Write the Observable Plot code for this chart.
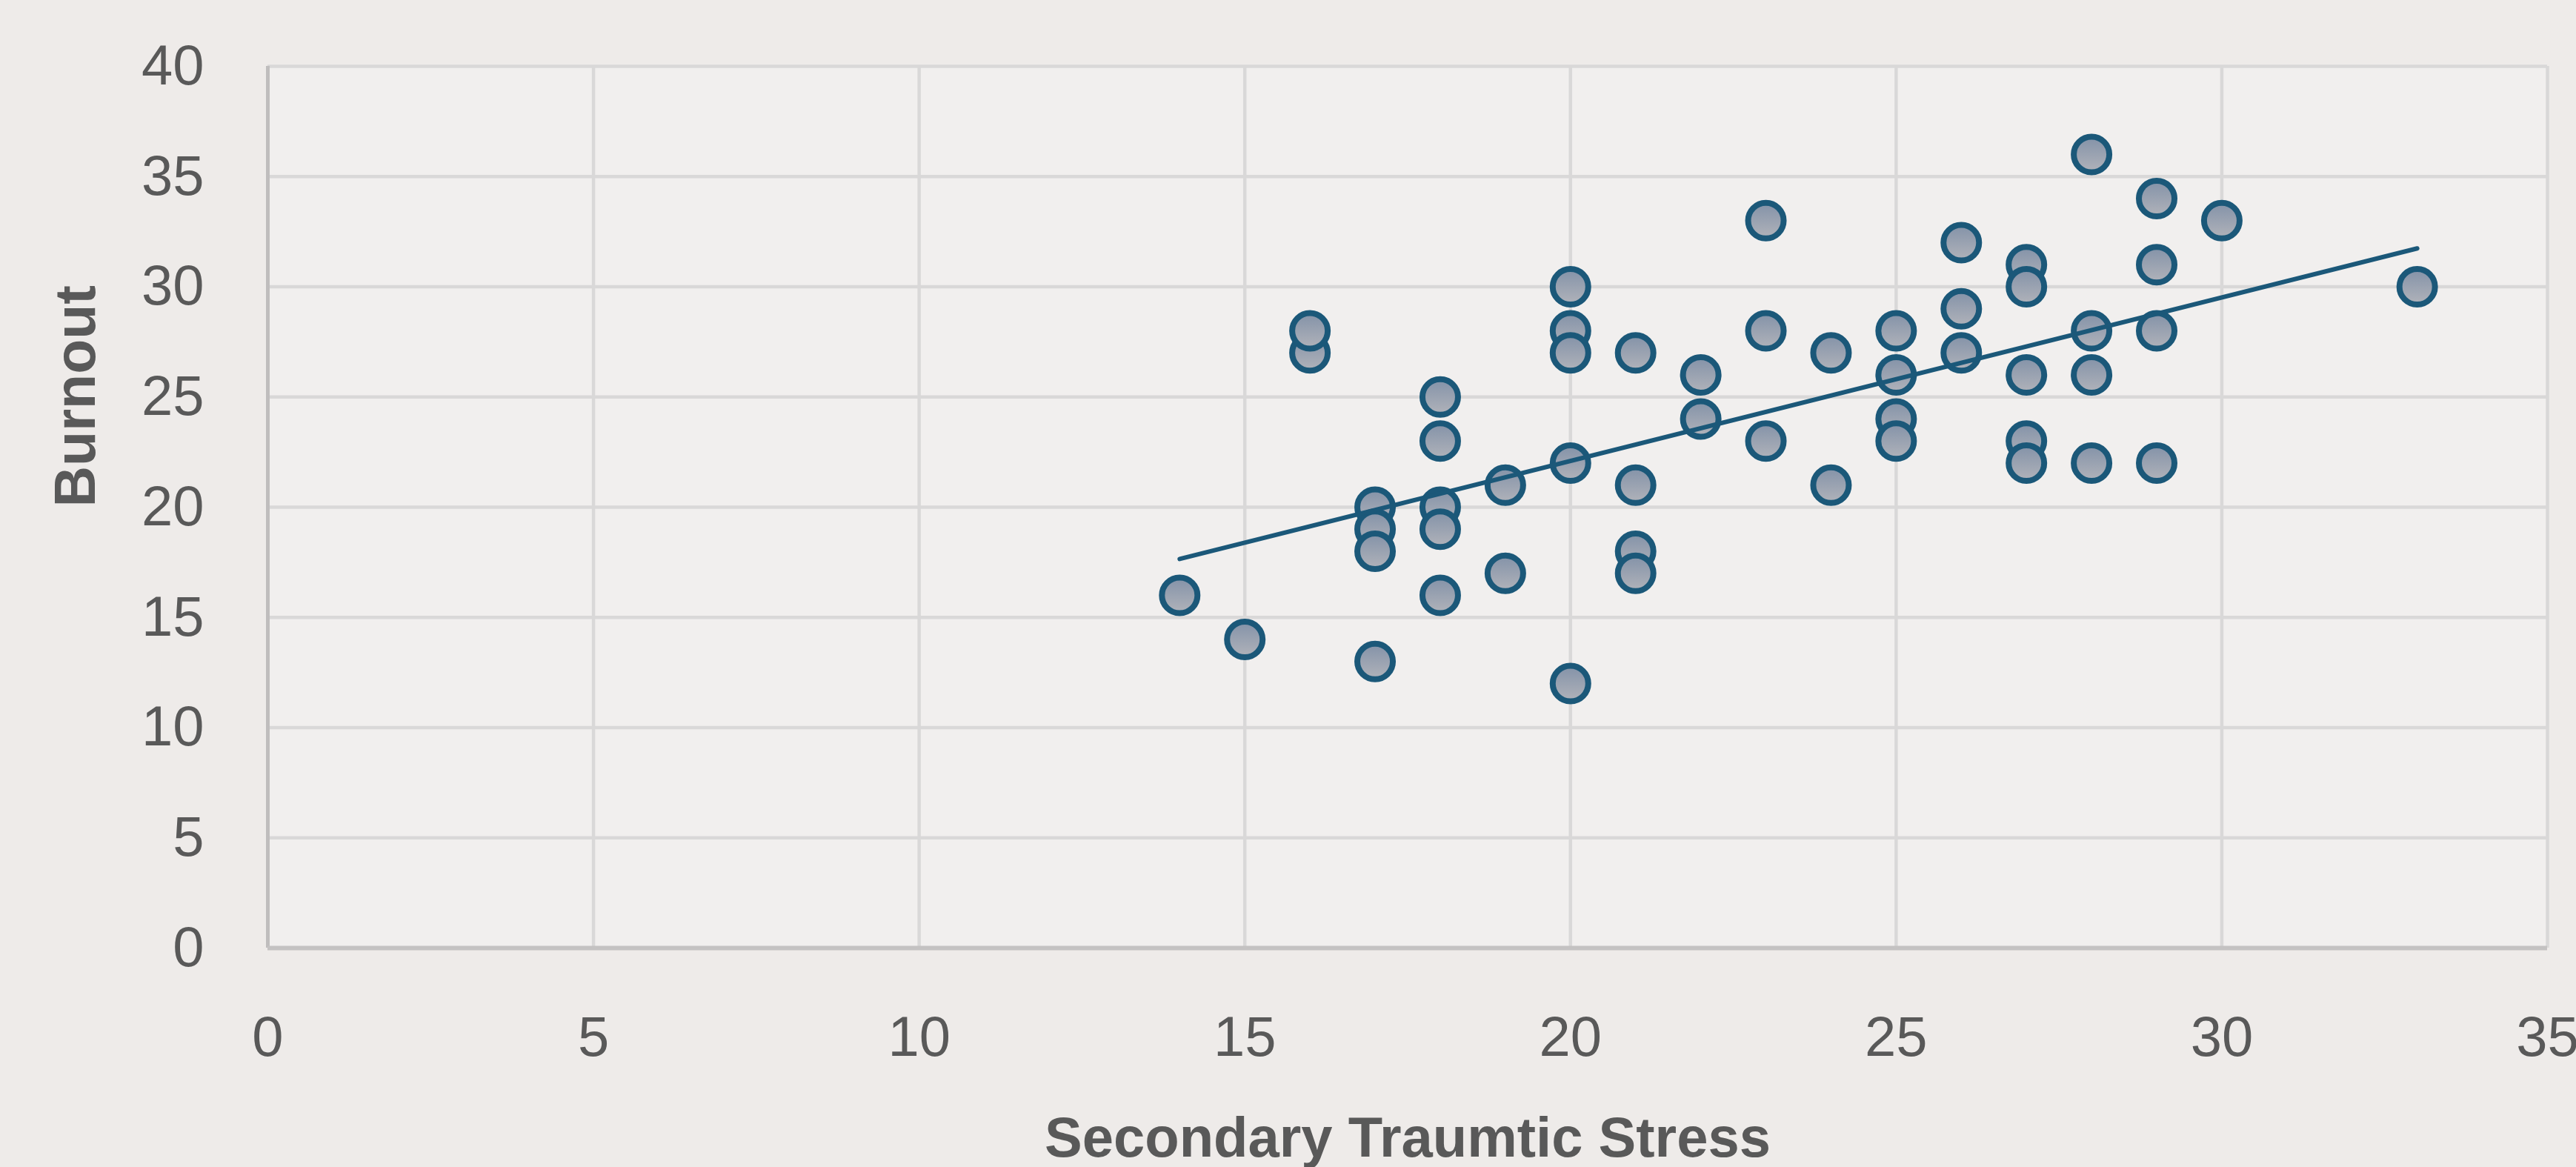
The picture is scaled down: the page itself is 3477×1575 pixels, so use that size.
<!DOCTYPE html>
<html>
<head>
<meta charset="utf-8">
<script src="https://cdn.jsdelivr.net/npm/d3@7"></script>
<script src="https://cdn.jsdelivr.net/npm/@observablehq/plot@0.6"></script>
<style>
  html, body { margin: 0; padding: 0; background: #eeebe9; }
  #chart svg { display: block; }
</style>
</head>
<body>
<div id="chart"></div>
<script>
// ---- Data ----
const stress = [14,15,16,16,17,17,17,17,18,18,18,18,18,19,19,20,20,20,20,20,21,21,21,21,22,22,23,23,23,24,24,25,25,25,25,26,26,26,27,27,27,27,27,28,28,28,28,29,29,29,29,30,33];
const burnout = [16,14,27,28,20,19,18,13,25,23,20,19,16,21,17,30,28,27,22,12,27,21,18,17,26,24,33,28,23,27,21,28,26,24,23,32,29,27,31,30,26,23,22,36,28,26,22,34,31,28,22,33,30];
const trendX = [14, 33];
const trendY = [17.65, 31.74];
const xTicks = [0, 5, 10, 15, 20, 25, 30, 35];
const yTicks = [0, 5, 10, 15, 20, 25, 30, 35, 40];
const xTitle = "Secondary Traumtic Stress";
const yTitle = "Burnout";

const points = stress.map((s, i) => ({stress: s, burnout: burnout[i]}));
const trend = trendX.map((x, i) => ({x, y: trendY[i]}));

const textColor = "#595959";
const markColor = "#1b5879";

const chart = Plot.plot({
  width: 3477,
  height: 1575,
  marginLeft: 361,
  marginRight: 39,
  marginTop: 89,
  marginBottom: 296,
  style: {
    background: "#eeebe9",
    fontFamily: "'Liberation Sans', Arial, sans-serif",
    fontSize: "76px",
    color: textColor
  },
  x: {domain: [0, 35]},
  y: {domain: [0, 40]},
  marks: [
    Plot.frame({fill: "#f1efee", stroke: "none"}),
    Plot.gridX(xTicks, {stroke: "#d9d8d8", strokeOpacity: 1, strokeWidth: 4.5}),
    Plot.gridY(yTicks, {stroke: "#d9d8d8", strokeOpacity: 1, strokeWidth: 4.5}),
    Plot.ruleX([0], {stroke: "#bfbdbd", strokeWidth: 5}),
    Plot.ruleY([0], {stroke: "#c4c2c2", strokeWidth: 6}),
    Plot.axisX({ticks: xTicks, tickSize: 0, tickPadding: 92, label: null, fill: textColor}),
    Plot.axisY({ticks: yTicks, tickSize: 0, tickPadding: 86, label: null, fill: textColor}),
    Plot.dot(points, {x: "stress", y: "burnout", r: 24, fill: "url(#dotGrad)", stroke: markColor, strokeWidth: 8}),
    Plot.line(trend, {x: "x", y: "y", stroke: markColor, strokeWidth: 6}),
    Plot.text([xTitle], {frameAnchor: "bottom", dy: 281, lineAnchor: "bottom", fontSize: 76, fontWeight: "bold", fill: textColor}),
    Plot.text([yTitle], {frameAnchor: "left", rotate: -90, dx: -234, lineAnchor: "bottom", fontSize: 77, fontWeight: "bold", fill: textColor})
  ]
});

// gradient definition for marker fill
const ns = "http://www.w3.org/2000/svg";
const defs = document.createElementNS(ns, "defs");
const grad = document.createElementNS(ns, "linearGradient");
grad.setAttribute("id", "dotGrad");
grad.setAttribute("x1", "0"); grad.setAttribute("y1", "0");
grad.setAttribute("x2", "0"); grad.setAttribute("y2", "1");
[["0%", "#8392a8"], ["100%", "#b1b3ba"]].forEach(([o, c]) => {
  const s = document.createElementNS(ns, "stop");
  s.setAttribute("offset", o);
  s.setAttribute("stop-color", c);
  grad.appendChild(s);
});
defs.appendChild(grad);
chart.insertBefore(defs, chart.firstChild);

document.getElementById("chart").appendChild(chart);
</script>
</body>
</html>
